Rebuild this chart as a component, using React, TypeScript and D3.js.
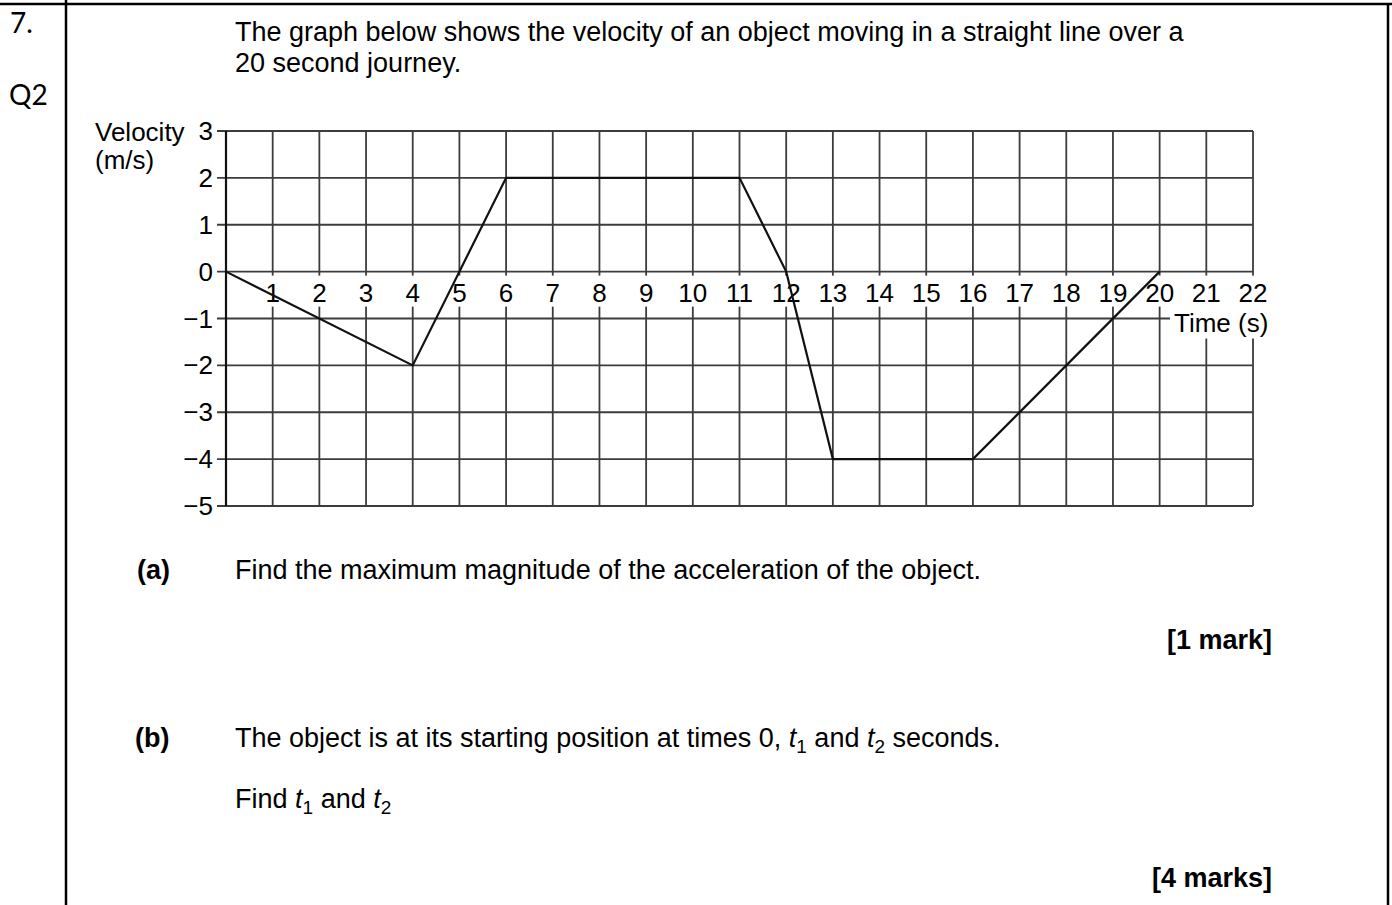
import * as d3 from "d3";

// velocity-time points of the journey
const times = [0, 4, 6, 11, 12, 13, 16, 20];
const velocities = [0, -2, 2, 2, 0, -4, -4, 0];

const xTicks = [1, 2, 3, 4, 5, 6, 7, 8, 9, 10, 11, 12, 13, 14, 15, 16, 17, 18, 19, 20, 21, 22];
const yTicks = [3, 2, 1, 0, -1, -2, -3, -4, -5];

const W = 1392, H = 905;
const ARIAL = "'Liberation Sans', Arial, sans-serif";
const GOTHIC = "Lato, 'Noto Sans', sans-serif";

const fmtY = (v: number) => (v < 0 ? "\u2212" + Math.abs(v) : String(v));

const App = () => {
  const x = d3.scaleLinear().domain([0, 22]).range([226, 1253]);
  const y = d3.scaleLinear().domain([-5, 3]).range([506, 131]);

  const line = d3
    .line<number>()
    .x((_, i) => x(times[i]))
    .y((d) => y(d));

  const gridColor = "#3c3c3c";
  const labelTop = y(0) + 4;
  const labelH = 31;

  return (
    <svg width={W} height={H} style={{ position: "absolute", left: 0, top: 0, background: "#fff" }}>
      {/* table borders */}
      <line x1={0} x2={W} y1={4} y2={4} stroke="#000" strokeWidth={2.5} />
      <line x1={66} x2={66} y1={0} y2={H} stroke="#000" strokeWidth={2.5} />
      <line x1={1388} x2={1388} y1={4} y2={H} stroke="#000" strokeWidth={2.5} />

      <text x={10} y={33} fontFamily={GOTHIC} fontSize={28}>7.</text>
      <text x={9} y={105} fontFamily={GOTHIC} fontSize={28}>Q2</text>

      <g fontFamily={ARIAL} fontSize={27} fill="#000">
        <text x={235} y={41}>The graph below shows the velocity of an object moving in a straight line over a</text>
        <text x={235} y={72}>20 second journey.</text>
      </g>

      {/* grid */}
      <g stroke={gridColor} strokeWidth={1.8}>
        {yTicks.map((v) => (
          <line key={"h" + v} x1={217} x2={x(22)} y1={y(v)} y2={y(v)} />
        ))}
        {xTicks.map((t) => (
          <line key={"v" + t} x1={x(t)} x2={x(t)} y1={y(3)} y2={y(-5)} />
        ))}
      </g>
      <line x1={x(0)} x2={x(0)} y1={y(3)} y2={y(-5)} stroke="#111" strokeWidth={2.2} />

      {/* axis labels */}
      <g fontFamily={ARIAL} fontSize={26} fill="#000">
        {yTicks.map((v) => (
          <text key={"yl" + v} x={213} y={y(v) + 9}>
            <tspan textAnchor="end">{fmtY(v)}</tspan>
          </text>
        ))}
        {xTicks.map((t) => {
          const w = String(t).length * 14.5 + 4;
          return (
            <g key={"xl" + t}>
              <rect x={x(t) - w / 2} y={labelTop} width={w} height={labelH} fill="#fff" />
              <text x={x(t)} y={y(0) + 30} textAnchor="middle">{t}</text>
            </g>
          );
        })}
        <rect x={1170} y={y(-1) - 14} width={102} height={34} fill="#fff" />
        <text x={1174} y={332}>Time (s)</text>
        <text x={95} y={141}>Velocity</text>
        <text x={95} y={169}>(m/s)</text>
      </g>

      {/* velocity line */}
      <path d={line(velocities) ?? ""} fill="none" stroke="#111" strokeWidth={2.2} strokeLinejoin="miter" />

      {/* questions */}
      <g fontFamily={ARIAL} fontSize={27} fill="#000">
        <text x={137} y={579} fontWeight="bold">(a)</text>
        <text x={235} y={579}>Find the maximum magnitude of the acceleration of the object.</text>
        <text x={1272} y={649} fontWeight="bold" textAnchor="end">[1 mark]</text>
        <text x={135} y={747} fontWeight="bold">(b)</text>
        <text x={235} y={747}>
          The object is at its starting position at times 0,{" "}
          <tspan fontStyle="italic">t</tspan>
          <tspan fontSize={19} dy={6}>1</tspan>
          <tspan dy={-6}> and </tspan>
          <tspan fontStyle="italic">t</tspan>
          <tspan fontSize={19} dy={6}>2</tspan>
          <tspan dy={-6}> seconds.</tspan>
        </text>
        <text x={235} y={808}>
          Find <tspan fontStyle="italic">t</tspan>
          <tspan fontSize={19} dy={6}>1</tspan>
          <tspan dy={-6}> and </tspan>
          <tspan fontStyle="italic">t</tspan>
          <tspan fontSize={19} dy={6}>2</tspan>
        </text>
        <text x={1272} y={887} fontWeight="bold" textAnchor="end">[4 marks]</text>
      </g>
    </svg>
  );
};

export default App;
